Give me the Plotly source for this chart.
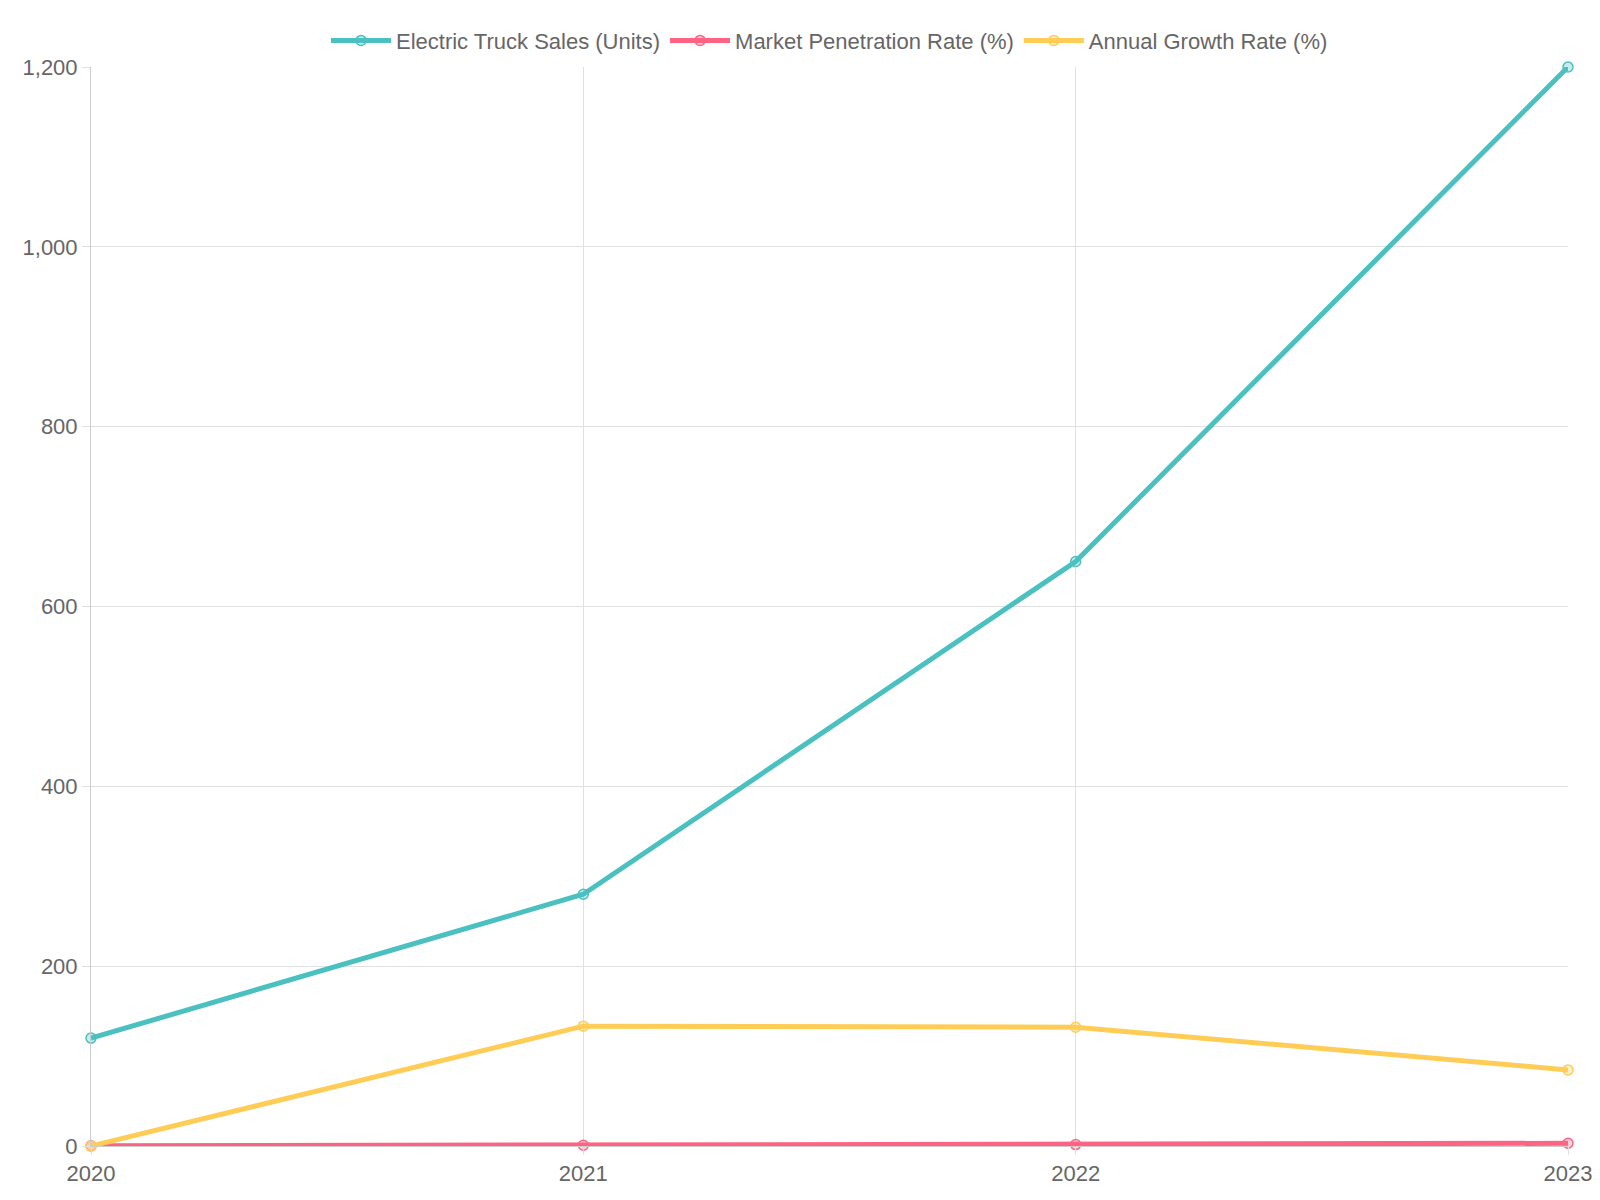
import plotly.graph_objects as go

years = [2020, 2021, 2022, 2023]
sales = [120, 280, 650, 1200]
penetration = [0.2, 0.8, 1.6, 3.0]
growth = [0, 133.3, 132.1, 84.6]

series = [
    ("Electric Truck Sales (Units)", sales, "#4bc0c0", "rgba(75,192,192,0.3)"),
    ("Market Penetration Rate (%)", penetration, "#ff6384", "rgba(255,99,132,0.3)"),
    ("Annual Growth Rate (%)", growth, "#ffcd56", "rgba(255,205,86,0.3)"),
]

fig = go.Figure()
for name, vals, col, fill in series:
    fig.add_trace(go.Scatter(
        x=years, y=vals, name=name, mode="lines+markers",
        line=dict(color=col, width=5),
        marker=dict(size=10, color=fill, line=dict(color=col, width=1.5)),
        cliponaxis=False,
    ))

fig.update_layout(
    width=1600, height=1200,
    paper_bgcolor="white", plot_bgcolor="white",
    font=dict(family="Liberation Sans, Arial", size=22, color="#666"),
    margin=dict(l=83, r=40, t=55, b=62),
    legend=dict(orientation="h", x=0.5, xanchor="center", y=1.005, yanchor="bottom",
                font=dict(size=22, color="#666"), itemwidth=60),
)
fig.update_xaxes(range=[2020, 2023], tickvals=years, ticktext=[str(y) for y in years],
                 showgrid=True, gridcolor="#e0e0e0", zeroline=False,
                 showline=True, linecolor="#ccc", ticks="outside", ticklen=8, tickcolor="#e0e0e0")
fig.update_yaxes(range=[0, 1200], dtick=200, tickformat=",", showgrid=True, gridcolor="#e0e0e0",
                 zeroline=False, showline=True, linecolor="#ccc",
                 ticks="outside", ticklen=8, tickcolor="#e0e0e0")

fig.write_html("out.html")
